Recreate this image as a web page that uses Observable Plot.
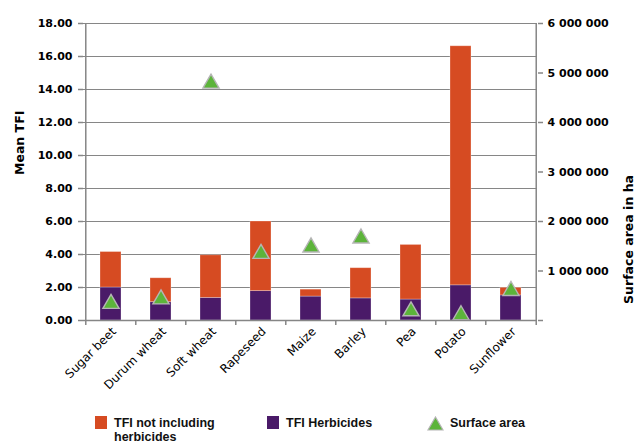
<!DOCTYPE html>
<html>
<head>
<meta charset="utf-8">
<script src="https://cdn.jsdelivr.net/npm/d3@7"></script>
<script src="https://cdn.jsdelivr.net/npm/@observablehq/plot@0.6"></script>
<style>
  html, body { margin: 0; padding: 0; background: #fff; }
  #chart { width: 634px; }
  #legend { position: relative; width: 634px; height: 45px; font: bold 12.5px "Liberation Sans", Arial, sans-serif; color: #111; }
  .item { position: absolute; top: 16px; display: flex; align-items: flex-start; }
  .swatch { width: 12px; height: 13px; margin-right: 7px; flex: none; }
  .label { line-height: 14px; }
</style>
</head>
<body>
<div id="chart"></div>
<div id="legend"></div>
<script>
// Crops, in display order
const crops = ["Sugar beet", "Durum wheat", "Soft wheat", "Rapeseed", "Maize", "Barley", "Pea", "Potato", "Sunflower"];

// Mean treatment frequency index (TFI) from herbicides
const tfiHerbicides = [2.00, 1.11, 1.37, 1.78, 1.45, 1.34, 1.27, 2.13, 1.52];

// Mean TFI from all other treatments
const tfiNonHerbicides = [2.15, 1.45, 2.58, 4.22, 0.42, 1.83, 3.31, 14.49, 0.46];

// Surface area grown, in hectares
const surfaceArea = [380000, 470000, 4830000, 1390000, 1520000, 1700000, 230000, 150000, 640000];

// Axis ticks
const tfiTicks = [0, 2, 4, 6, 8, 10, 12, 14, 16, 18];
const areaTicks = [0, 1000000, 2000000, 3000000, 4000000, 5000000, 6000000];

const seriesNames = ["TFI Herbicides", "TFI not including herbicides"];
const seriesColors = ["#4a1a68", "#d64b22"];
const triangleColor = "#5cb43a";

// Secondary axis: hectares are placed on the TFI scale by a fixed ratio
const tfiMax = 18, areaMax = 6000000;
const areaToTfi = (a) => a * tfiMax / areaMax;

const width = 634, height = 400;
const marginLeft = 83, marginRight = 97, marginTop = 23, marginBottom = 80;
const step = (width - marginLeft - marginRight) / crops.length;

const stacked = [
  ...crops.map((crop, i) => ({crop, series: seriesNames[0], value: tfiHerbicides[i]})),
  ...crops.map((crop, i) => ({crop, series: seriesNames[1], value: tfiNonHerbicides[i]}))
];
const areas = crops.map((crop, i) => ({crop, area: surfaceArea[i]}));

const spaced = d3.formatLocale({decimal: ".", thousands: " ", grouping: [3], currency: ["", ""]}).format(",d");
const gray = "#868686";

const chart = Plot.plot({
  width, height, marginLeft, marginRight, marginTop, marginBottom,
  style: {fontFamily: "DejaVu Sans", fontSize: "11px", color: "#000", background: "#fff"},
  x: {domain: crops, paddingInner: 0.58, paddingOuter: 0.29, label: null},
  y: {domain: [0, tfiMax], label: null},
  color: {domain: seriesNames, range: seriesColors},
  marks: [
    // horizontal gridlines
    Plot.ruleY(tfiTicks.slice(1), {stroke: gray, strokeWidth: 1.2}),
    // stacked TFI bars
    Plot.barY(stacked, {x: "crop", y: "value", fill: "series", stroke: "#ffffff", strokeOpacity: 0.35, strokeWidth: 0.8}),
    // surface area markers on the secondary axis (box-centred on the value)
    Plot.dot(areas, {x: "crop", y: (d) => areaToTfi(d.area), dy: 2, symbol: "triangle", r: 6, fill: triangleColor, stroke: "#b5b5b5", strokeWidth: 1.4}),
    // frame: baseline and the two vertical axis lines
    Plot.ruleY([0], {stroke: gray, strokeWidth: 1.5}),
    Plot.ruleX([crops[0]], {y1: 0, y2: tfiMax, dx: -step / 2, stroke: gray, strokeWidth: 1.5}),
    Plot.ruleX([crops[crops.length - 1]], {y1: 0, y2: tfiMax, dx: step / 2, stroke: gray, strokeWidth: 1.5}),
    // category separator ticks under the baseline
    Plot.ruleX(crops, {y1: 0, y2: -0.3, dx: -step / 2, stroke: gray, strokeWidth: 1.5}),
    Plot.ruleX([crops[crops.length - 1]], {y1: 0, y2: -0.3, dx: step / 2, stroke: gray, strokeWidth: 1.5}),
    // left axis
    Plot.axisY(tfiTicks, {anchor: "left", tickFormat: d3.format(".2f"), tickSize: 5, tickPadding: 6, stroke: gray, strokeWidth: 1.5, fill: "#000", fontWeight: "bold", label: null}),
    // right axis (hectares)
    Plot.axisY(areaTicks.map(areaToTfi), {anchor: "right", tickFormat: (d) => d === 0 ? "" : spaced(Math.round(d * areaMax / tfiMax)), tickSize: 5, tickPadding: 5, stroke: gray, strokeWidth: 1.5, fill: "#000", fontWeight: "bold", label: null}),
    // category labels
    Plot.axisX({tickSize: 0, tickRotate: -45, tickPadding: 9, dx: 3, fill: "#000", fontSize: 12, label: null}),
    // axis titles
    Plot.text(["Mean TFI"], {frameAnchor: "left", rotate: -90, dx: -64, dy: 3, fontWeight: "bold", fontSize: 12.5, fill: "#000"}),
    Plot.text(["Surface area in ha"], {frameAnchor: "right", rotate: -90, dx: 91, dy: 3, fontWeight: "bold", fontSize: 12.5, fill: "#000"})
  ]
});
document.getElementById("chart").append(chart);

// legend below the chart
const legend = d3.select("#legend");
const entries = [
  {name: "TFI not including herbicides", color: seriesColors[1], kind: "square", left: 95, textWidth: 104},
  {name: "TFI Herbicides", color: seriesColors[0], kind: "square", left: 267, textWidth: 140},
  {name: "Surface area", color: triangleColor, kind: "triangle", left: 427, textWidth: 140}
];
for (const e of entries) {
  const item = legend.append("div").attr("class", "item").style("left", e.left + "px");
  if (e.kind === "square") {
    item.append("div").attr("class", "swatch").style("background", e.color);
  } else {
    const svg = item.append("svg").attr("width", 17).attr("height", 15).style("margin-right", "6px").style("flex", "none");
    svg.append("path").attr("d", "M8.5,1 L16,14 L1,14 Z").attr("fill", e.color).attr("stroke", "#b5b5b5").attr("stroke-width", 1.2);
  }
  item.append("div").attr("class", "label").style("width", e.textWidth + "px").text(e.name);
}
</script>
</body>
</html>
